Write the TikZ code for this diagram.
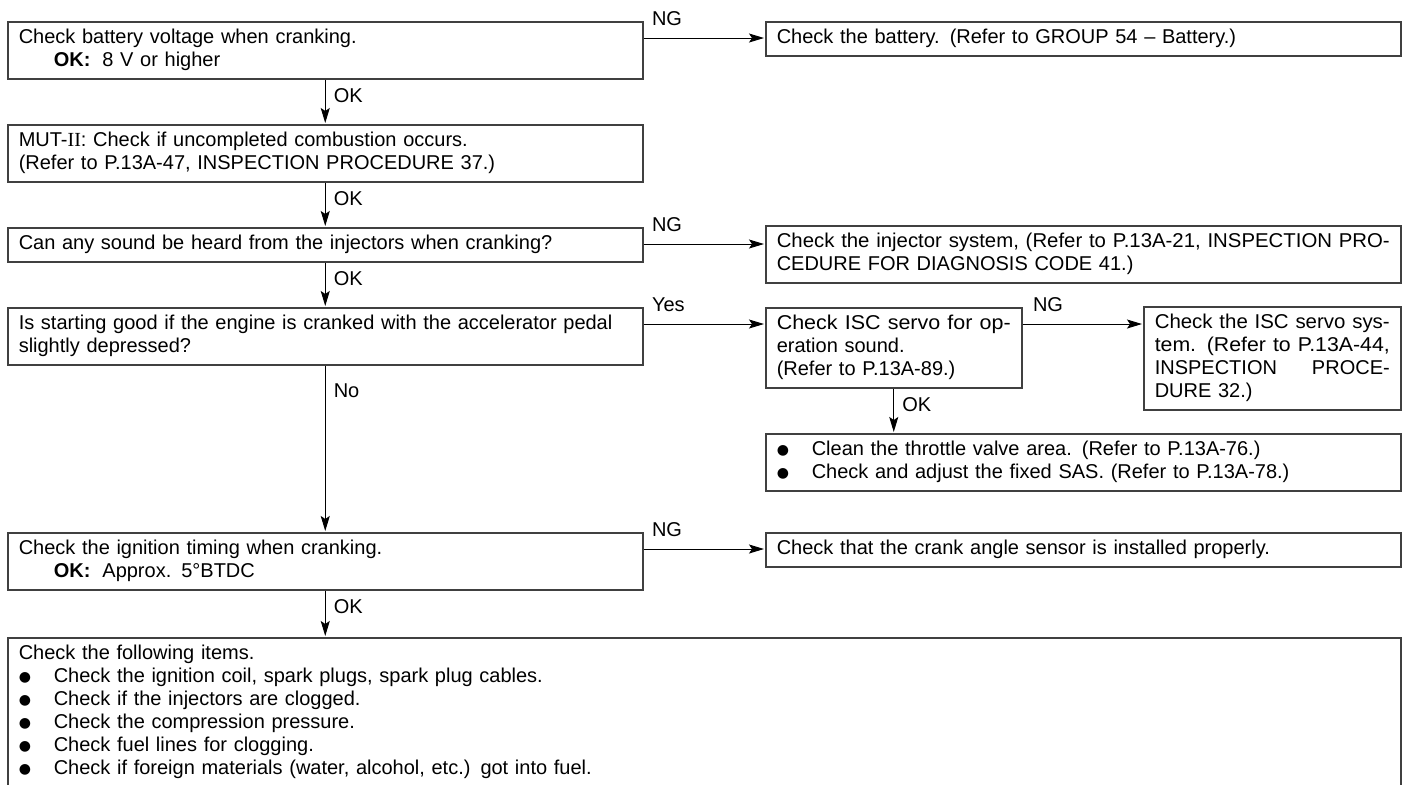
\documentclass[tikz,border=0pt]{standalone}
\usepackage{fontspec}
\usepackage{graphicx}
\setmainfont{Liberation Sans}[WordSpace=1.8]
\newfontfamily\romanii{Liberation Serif}
\newfontfamily\dotfont{DejaVu Sans}
\usetikzlibrary{arrows.meta}
\newcommand\fitline[1]{\resizebox{\linewidth}{\height}{#1}}
\newcommand\bitem{\makebox[17.5pt][l]{\raisebox{0.7pt}{\dotfont\fontsize{7pt}{0pt}\selectfont ●}}}
\begin{document}
\begin{tikzpicture}[x=0.5pt,y=-0.5pt,font=\fontsize{10pt}{11.5pt}\selectfont,
  box/.style={draw=black!75,line width=0.75pt,anchor=north west,align=left,inner xsep=5.5pt,inner ysep=0pt,text width=306.5pt,minimum height=28.5pt},
  lbl/.style={inner sep=0pt},
  arr/.style={line width=0.5pt,-{Stealth[length=7.5pt,width=4.5pt,inset=1.5pt]},shorten >=0.5pt}]
\useasboundingbox (0,0) rectangle (1413,784);
\node[box] (bat) at (7,21) {Check battery voltage when cranking.\\\hspace*{17.5pt}\textbf{OK:}\hspace{6pt}8 V or higher};
\node[box,minimum height=17pt] (btry) at (765,21) {Check the battery. (Refer to GROUP 54 -- Battery.)};
\node[box] (mut) at (7,124) {MUT-{\romanii II}: Check if uncompleted combustion occurs.\\(Refer to P.13A-47, INSPECTION PROCEDURE 37.)};
\node[box,minimum height=17pt] (snd) at (7,227) {Can any sound be heard from the injectors when cranking?};
\node[box] (inj) at (765,225) {\fitline{Check the injector system, (Refer to P.13A-21, INSPECTION PRO-}\\CEDURE FOR DIAGNOSIS CODE 41.)};
\node[box] (strt) at (7,307) {Is starting good if the engine is cranked with the accelerator pedal\\slightly depressed?};
\node[box,text width=117pt,minimum height=40pt] (isc) at (765,307) {\fitline{Check ISC servo for op-}\\eration sound.\\(Refer to P.13A-89.)};
\node[box,text width=117.5pt,minimum height=51.5pt] (iscs) at (1143,306) {\fitline{Check the ISC servo sys-}\\\fitline{tem. (Refer to P.13A-44,}\\INSPECTION\hfill PROCE-\\DURE 32.)};
\node[box] (thr) at (765,433) {\bitem Clean the throttle valve area. (Refer to P.13A-76.)\\\bitem Check and adjust the fixed SAS. (Refer to P.13A-78.)};
\node[box] (ign) at (7,532) {Check the ignition timing when cranking.\\\hspace*{17.5pt}\textbf{OK:}\hspace{6pt}Approx. 5°BTDC};
\node[box,minimum height=17pt] (crk) at (765,532) {Check that the crank angle sensor is installed properly.};
\node[box,text width=685.5pt,minimum height=74.5pt] (fin) at (7,637) {Check the following items.\\\bitem Check the ignition coil, spark plugs, spark plug cables.\\\bitem Check if the injectors are clogged.\\\bitem Check the compression pressure.\\\bitem Check fuel lines for clogging.\\\bitem Check if foreign materials (water, alcohol, etc.) got into fuel.};
\coordinate (c1) at ([yshift=-8.5pt]bat.north east);
\coordinate (c3) at ([yshift=-8.5pt]snd.north east);
\coordinate (c4) at ([yshift=-8.5pt]strt.north east);
\coordinate (c5) at ([yshift=-8.5pt]isc.north east);
\coordinate (c6) at ([yshift=-8.5pt]ign.north east);
\draw[arr] (c1) -- node[lbl,pos=0,anchor=base west,xshift=4pt,yshift=6.5pt] {NG} (c1 -| btry.west);
\draw[arr] (c3) -- node[lbl,pos=0,anchor=base west,xshift=4pt,yshift=6.5pt] {NG} (c3 -| inj.west);
\draw[arr] (c4) -- node[lbl,pos=0,anchor=base west,xshift=4pt,yshift=6.5pt] {Yes} (c4 -| isc.west);
\draw[arr] (c5) -- node[lbl,pos=0,anchor=base west,xshift=5pt,yshift=6.5pt] {NG} (c5 -| iscs.west);
\draw[arr] (c6) -- node[lbl,pos=0,anchor=base west,xshift=4pt,yshift=6.5pt] {NG} (c6 -| crk.west);
\draw[arr] (bat.south) -- node[lbl,pos=0,anchor=north west,xshift=4pt,yshift=-4.5pt] {OK} (mut.north);
\draw[arr] (mut.south) -- node[lbl,pos=0,anchor=north west,xshift=4pt,yshift=-4.5pt] {OK} (snd.north);
\draw[arr] (snd.south) -- node[lbl,pos=0,anchor=north west,xshift=4pt,yshift=-4.5pt] {OK} (strt.north);
\draw[arr] (strt.south) -- node[lbl,pos=0,anchor=north west,xshift=4pt,yshift=-9pt] {No} (ign.north);
\draw[arr] (isc.south) -- node[lbl,pos=0,anchor=north west,xshift=4pt,yshift=-4.5pt] {OK} (isc.south |- thr.north);
\draw[arr] (ign.south) -- node[lbl,pos=0,anchor=north west,xshift=4pt,yshift=-4.5pt] {OK} (ign.south |- fin.north);
\end{tikzpicture}
\end{document}
